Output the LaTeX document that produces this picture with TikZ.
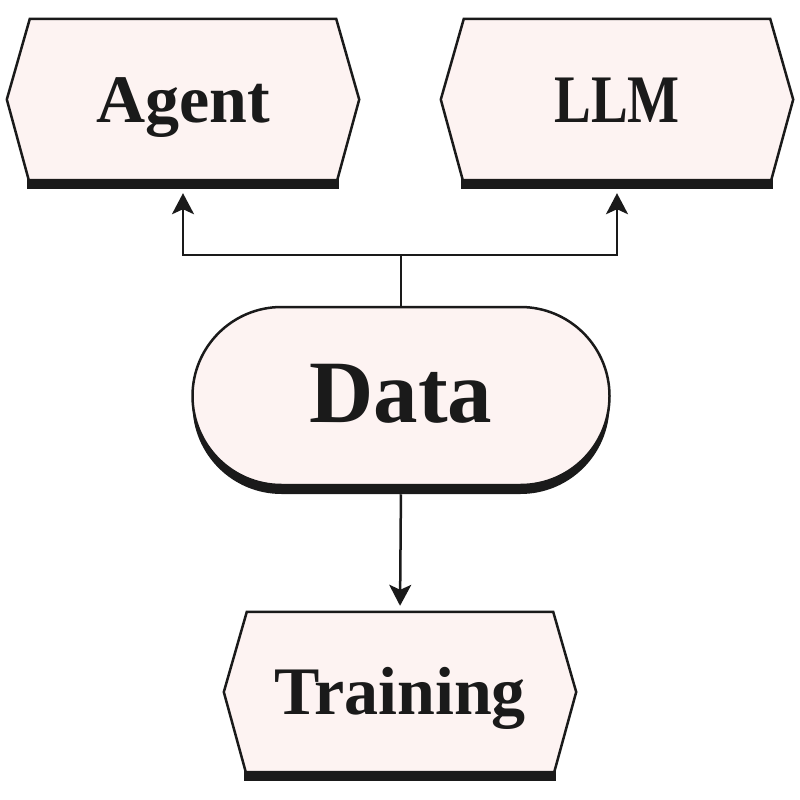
\documentclass[tikz,border=0pt]{standalone}
\usepackage{fontspec}
\setmainfont{Liberation Serif}
\usetikzlibrary{calc,arrows.meta,shapes.misc,shadows,backgrounds}
\definecolor{ink}{HTML}{1A1A1A}
\definecolor{paper}{HTML}{FDF3F2}
\begin{document}
\begin{tikzpicture}[x=1pt,y=-1pt,
  lbl/.style={inner sep=0pt, text=ink, text height=45pt, text depth=0pt,
    font=\bfseries\fontsize{68}{68}\selectfont},
  hexline/.style={draw=ink, fill=paper, line width=2.5pt, line join=miter},
  conn/.style={draw=ink, line width=2.5pt},
  arr/.style={conn, -{Stealth[length=21pt,width=22pt,inset=5pt]}},
  stadium/.style={rounded rectangle, draw=ink, fill=paper, line width=2.5pt, inner sep=0pt,
    drop shadow={shadow xshift=0pt, shadow yshift=-9pt, opacity=1, fill=ink}}
]
\useasboundingbox (0,0) rectangle (800,800);

% hexagon boxes
\node[lbl, minimum width=352pt, minimum height=161pt] (agent) at (183,99.5) {Agent};
\node[lbl, minimum width=352pt, minimum height=161pt] (llm) at (617,99.5) {\scalebox{0.81}[1]{LLM}};
\node[lbl, minimum width=352pt, minimum height=160pt] (training) at (400,692) {Training};

\begin{scope}[on background layer]
\fill[white] (0,0) rectangle (800,800);
\foreach \n in {agent,llm,training}{
  \fill[ink] ($(\n.south west)+(20,-1)$) rectangle ($(\n.south east)+(-20,8.5)$);
  \path[hexline] (\n.west) -- ($(\n.north west)+(23,0)$) -- ($(\n.north east)+(-23,0)$)
    -- (\n.east) -- ($(\n.south east)+(-22,0)$) -- ($(\n.south west)+(22,0)$) -- cycle;
}
\end{scope}

% data stadium
\node[stadium, minimum width=417pt, minimum height=178pt, text=ink,
  text height=59pt, text depth=6pt,
  font=\bfseries\fontsize{89}{89}\selectfont] (data) at (401,396) {Data};

% connectors
\coordinate (j) at (401,255);
\draw[conn] (data.north) -- (j);
\draw[arr, shorten >=13pt] (j) -| (agent.south);
\draw[arr, shorten >=13pt] (j) -| (llm.south);
\draw[arr, shorten <=8pt, shorten >=6pt] (data.south) -- (training.north);
\end{tikzpicture}
\end{document}
